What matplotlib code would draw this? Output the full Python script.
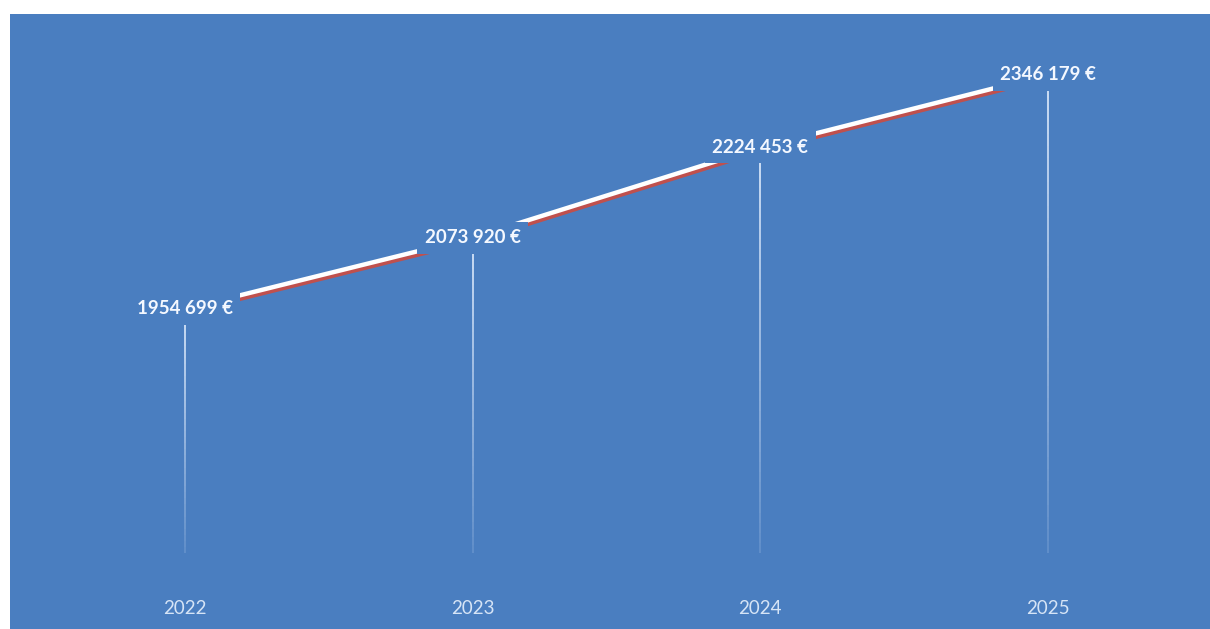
import matplotlib.pyplot as plt
import matplotlib.patheffects as pe
import numpy as np
from matplotlib.collections import LineCollection

years = ['2022', '2023', '2024', '2025']
revenue = [1954699, 2073920, 2224453, 2346179]

BG = '#4a7ec0'
LINE_RED = '#c0504d'
FLOOR = 1547000  # where the drop lines end


def fmt_eur(v):
    # thousands separated only once, e.g. "1954 699 €"
    return f"{v // 1000} {v % 1000:03d} €"


fig = plt.figure(figsize=(12.1, 6.29), dpi=100, facecolor='white')
ax = fig.add_axes([10 / 1210, 0, 1200 / 1210, 615 / 629])
ax.set_facecolor(BG)

x = np.arange(len(years))

# trend line: white stroke with a red drop shadow underneath
ax.plot(x, revenue, color='white', linewidth=3.2, solid_capstyle='round', zorder=3,
        path_effects=[pe.SimpleLineShadow(offset=(1.2, -2.2), shadow_color=LINE_RED,
                                          alpha=1.0, linewidth=3.2),
                      pe.Normal()])

# fading drop lines from each point down to the floor
n = 40
for xi, v in zip(x, revenue):
    ys = np.linspace(v, FLOOR, n + 1)
    segs = [[(xi, ys[i]), (xi, ys[i + 1])] for i in range(n)]
    alphas = np.linspace(0.85, 0.15, n)
    cols = [(0.9, 0.94, 1.0, a) for a in alphas]
    ax.add_collection(LineCollection(segs, colors=cols, linewidths=1.4, zorder=2))

# value labels sit on the line, boxed in the background colour
for xi, v in zip(x, revenue):
    ax.text(xi, v, fmt_eur(v), ha='center', va='center', color='#f4f8ff',
            fontsize=13.5, fontweight='bold', family=['Lato', 'DejaVu Sans'], zorder=4,
            bbox=dict(boxstyle='square,pad=0.4', facecolor=BG, edgecolor='none'))

ax.set_xlim(-0.608, 3.563)
ax.set_ylim(1420300, 2447300)

# year labels along the bottom
for xi, yr in zip(x, years):
    ax.text(xi, 0.033, yr, transform=ax.get_xaxis_transform(), ha='center', va='center',
            color='#d6e4f6', fontsize=13.5, family=['Lato', 'DejaVu Sans'])

ax.set_xticks([])
ax.set_yticks([])
for s in ax.spines.values():
    s.set_visible(False)

plt.savefig('out.png', dpi=100, facecolor='white')
